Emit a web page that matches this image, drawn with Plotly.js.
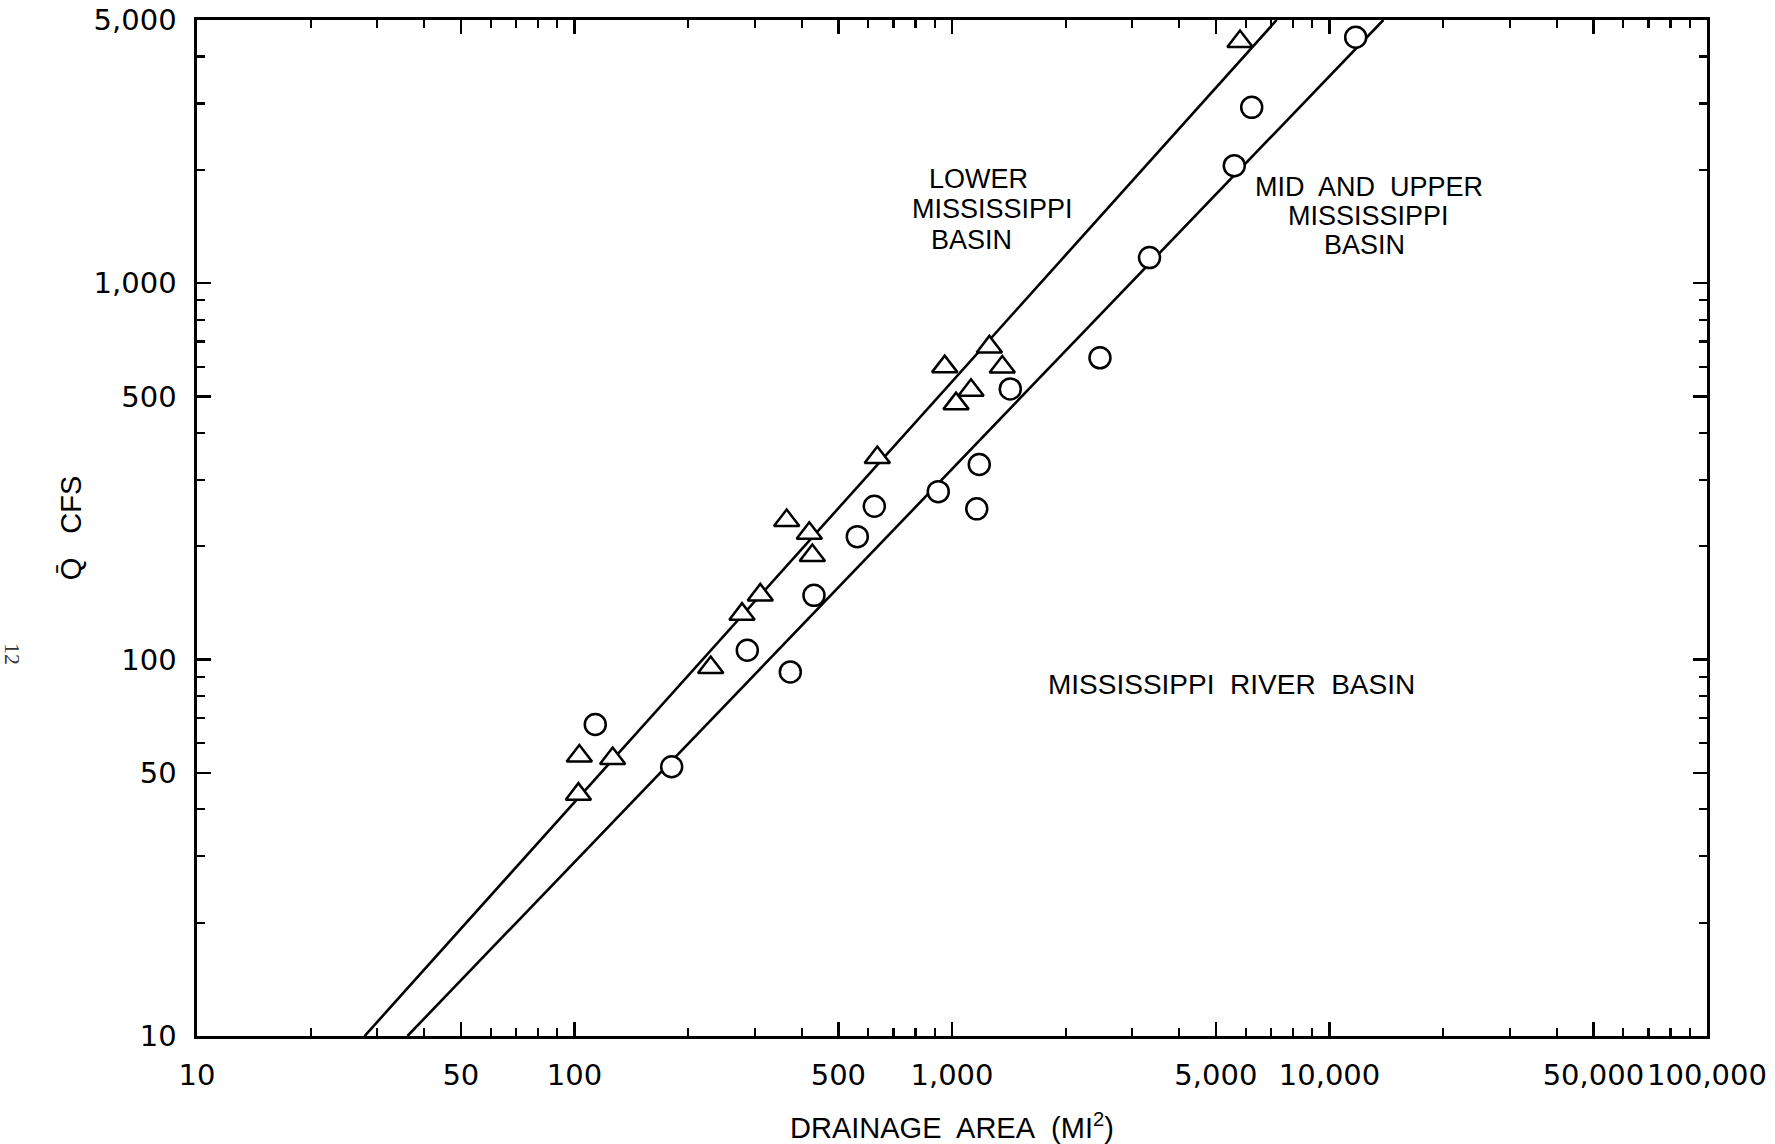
<!DOCTYPE html>
<html>
<head>
<meta charset="utf-8">
<script src="https://cdn.plot.ly/plotly-3.0.1.min.js"></script>
<style>
  html, body { margin: 0; padding: 0; background: #ffffff; }
  #chart { width: 1775px; height: 1144px; }
</style>
</head>
<body>
<div id="chart"></div>
<script>
// ---- Data ----
// Lower Mississippi Basin (triangles)
const lowerArea = [103, 102.4, 126.2, 229.5, 277.8, 310.6, 364.8, 418.8, 426.6, 634.1, 956.5, 1025, 1123, 1256, 1359, 5794];
const lowerQ    = [55.4, 43.9, 54.6, 95.3, 132, 148.5, 234, 216.5, 189, 344, 600, 478.5, 519, 677, 598.5, 4385];
// Mid and Upper Mississippi Basin (circles)
const upperArea = [113.5, 180.9, 286.9, 373, 430.9, 561.2, 622.6, 919.6, 1163, 1181, 1427, 2466, 3336, 5595, 6222, 11732];
const upperQ    = [67.2, 51.9, 105.9, 92.7, 148.1, 212.1, 255.5, 279.3, 251.4, 329.7, 523.5, 633.2, 1169, 2051, 2930, 4500];
// Regression lines (end points)
const lowerLineArea = [27.8, 7245];
const lowerLineQ    = [10, 5000];
const upperLineArea = [36.1, 13890];
const upperLineQ    = [10, 5000];

// Axis ticks
const xTickVals  = [10, 50, 100, 500, 1000, 5000, 10000, 50000, 100000];
const xTickText  = ["10", "50", "100", "500", "1,000", "5,000", "10,000", "50,000", "100,000"];
const xMinorVals = [20, 30, 40, 60, 70, 80, 90, 200, 300, 400, 600, 700, 800, 900,
                    2000, 3000, 4000, 6000, 7000, 8000, 9000, 20000, 30000, 40000, 60000, 70000, 80000, 90000];
const yTickVals  = [10, 50, 100, 500, 1000, 5000];
const yTickText  = ["10", "50", "100", "500", "1,000", "5,000"];
const yMinorVals = [20, 30, 40, 60, 70, 80, 90, 200, 300, 400, 600, 700, 800, 900, 2000, 3000, 4000];

// Text labels
const lowerLabel = ["LOWER", "MISSISSIPPI", "BASIN"];
const upperLabel = ["MID AND UPPER", "MISSISSIPPI", "BASIN"];
const basinLabel = "MISSISSIPPI\u00A0 RIVER\u00A0 BASIN";

// ---- Styling ----
const INK = "#000000";
const tickFont = { family: "DejaVu Sans, Liberation Sans, sans-serif", size: 29, color: INK };
const textFont = { family: "Liberation Sans, Arial, sans-serif", size: 27, color: INK };

const traces = [
  { x: lowerLineArea, y: lowerLineQ, mode: "lines", type: "scatter",
    line: { color: INK, width: 2.6 }, hoverinfo: "skip", showlegend: false },
  { x: upperLineArea, y: upperLineQ, mode: "lines", type: "scatter",
    line: { color: INK, width: 2.6 }, hoverinfo: "skip", showlegend: false },
  { x: lowerArea, y: lowerQ, mode: "markers", type: "scatter", name: "Lower Mississippi Basin",
    marker: { symbol: "triangle-up", size: 22, color: "#ffffff", line: { color: INK, width: 2.5 } },
    showlegend: false },
  { x: upperArea, y: upperQ, mode: "markers", type: "scatter", name: "Mid and Upper Mississippi Basin",
    marker: { symbol: "circle", size: 21, color: "#ffffff", line: { color: INK, width: 2.5 } },
    showlegend: false }
];

const ML = 197, MR = 68, MT = 20, MB = 108;
const W = 1775, H = 1144;
const PW = W - ML - MR, PH = H - MT - MB;
function px(X) { return (X - ML) / PW; }
function py(Y) { return (H - MB - Y) / PH; }

const annotations = [];
const lowerPos = [[978, 179], [992, 209], [971, 240]];
lowerLabel.forEach((t, i) => annotations.push({
  text: t, xref: "paper", yref: "paper", x: px(lowerPos[i][0]), y: py(lowerPos[i][1]),
  xanchor: "center", yanchor: "middle", showarrow: false, font: textFont
}));
const upperPos = [[1369, 187], [1368, 216], [1364, 245]];
upperLabel.forEach((t, i) => annotations.push({
  text: t.replace(/ /g, "\u00A0 "), xref: "paper", yref: "paper", x: px(upperPos[i][0]), y: py(upperPos[i][1]),
  xanchor: "center", yanchor: "middle", showarrow: false, font: textFont
}));
annotations.push({
  text: basinLabel, xref: "paper", yref: "paper", x: px(1231), y: py(684),
  xanchor: "center", yanchor: "middle", showarrow: false,
  font: { family: "Liberation Sans, Arial, sans-serif", size: 28, color: INK }
});
annotations.push({
  text: "12", xref: "paper", yref: "paper", x: px(13), y: py(654),
  xanchor: "center", yanchor: "middle", showarrow: false, textangle: 90,
  font: { family: "Liberation Serif, serif", size: 22, color: "#333333" }
});

const axisCommon = {
  type: "log",
  showgrid: false, zeroline: false,
  showline: true, linecolor: INK, linewidth: 2.6,
  mirror: "ticks",
  ticks: "inside", ticklen: 14, tickwidth: 2.4, tickcolor: INK,
  tickmode: "array",
  tickfont: tickFont
};

const layout = {
  width: W, height: H,
  margin: { l: ML, r: MR, t: MT, b: MB, pad: 0 },
  paper_bgcolor: "#ffffff", plot_bgcolor: "#ffffff",
  showlegend: false,
  xaxis: Object.assign({}, axisCommon, {
    range: [1, 5],
    tickvals: xTickVals, ticktext: xTickText,
    ticklabelstandoff: 12,
    minor: { tickmode: "array", tickvals: xMinorVals, ticks: "inside", ticklen: 8, tickwidth: 2.2, tickcolor: INK, showgrid: false },
    title: { text: "DRAINAGE\u00A0 AREA\u00A0 (MI<sup>2</sup>)", font: { family: "Liberation Sans, Arial, sans-serif", size: 29, color: INK }, standoff: 28 }
  }),
  yaxis: Object.assign({}, axisCommon, {
    range: [1, Math.log10(5000)],
    tickvals: yTickVals, ticktext: yTickText,
    ticklabelstandoff: 12,
    minor: { tickmode: "array", tickvals: yMinorVals, ticks: "inside", ticklen: 8, tickwidth: 2.2, tickcolor: INK, showgrid: false },
    title: { text: "Q\u0304\u00A0\u00A0 CFS", font: { family: "Liberation Sans, Arial, sans-serif", size: 29, color: INK }, standoff: 4 }
  }),
  annotations: annotations
};

Plotly.newPlot("chart", traces, layout, { staticPlot: true, displayModeBar: false });
</script>
</body>
</html>
